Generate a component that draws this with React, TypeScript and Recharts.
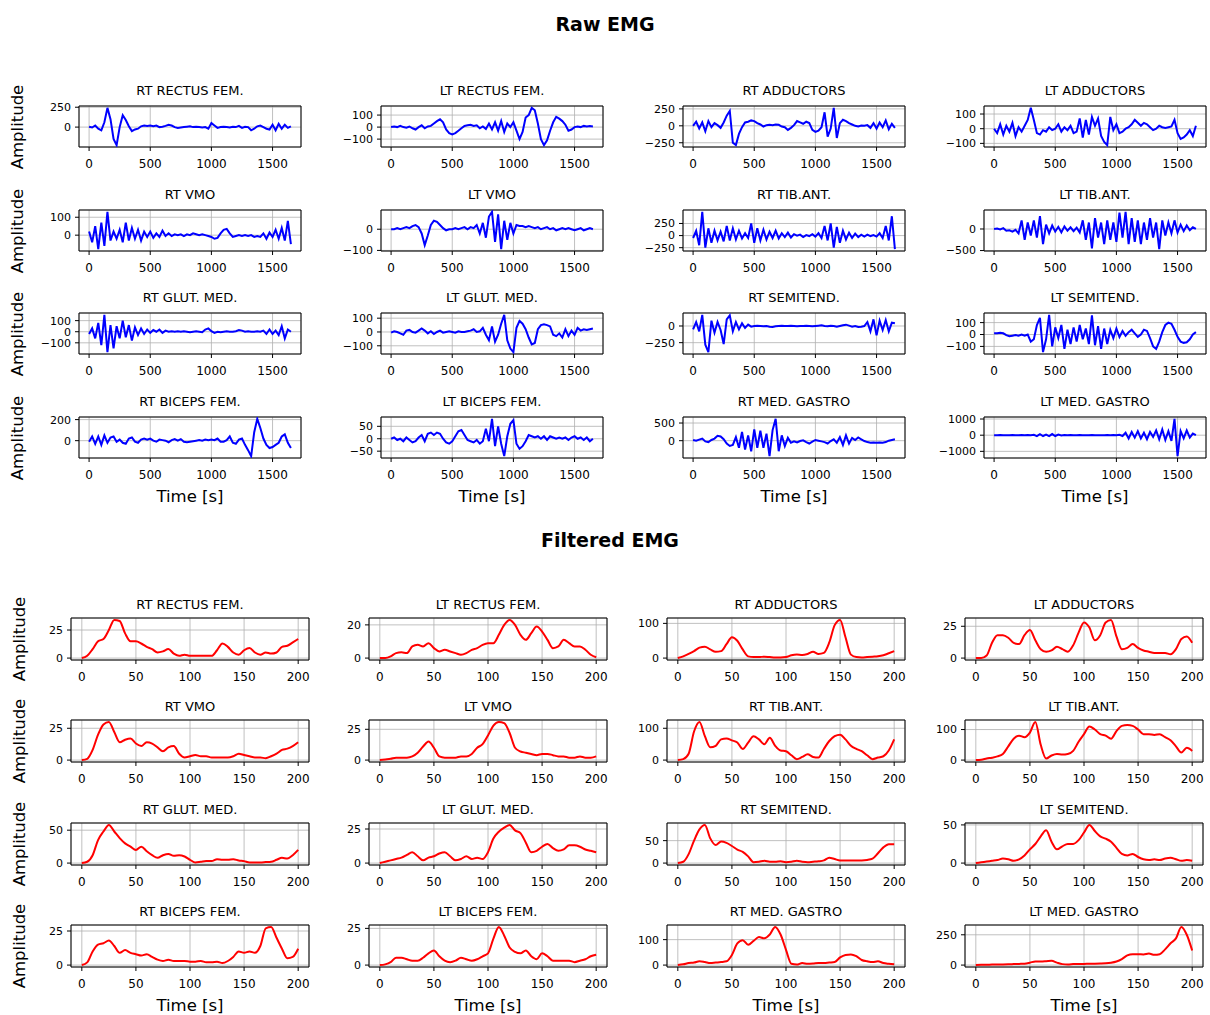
import { LineChart, Line, XAxis, YAxis, CartesianGrid, ReferenceArea } from "recharts";

// sampling grids
const rawTime = Array.from({ length: 67 }, (_, i) => i * 25);
const filtTime = Array.from({ length: 41 }, (_, i) => i * 5);

const rawXTicks = [0, 500, 1000, 1500];
const filtXTicks = [0, 50, 100, 150, 200];

const muscles = [
  "RT RECTUS FEM.", "LT RECTUS FEM.", "RT ADDUCTORS", "LT ADDUCTORS",
  "RT VMO", "LT VMO", "RT TIB.ANT.", "LT TIB.ANT.",
  "RT GLUT. MED.", "LT GLUT. MED.", "RT SEMITEND.", "LT SEMITEND.",
  "RT BICEPS FEM.", "LT BICEPS FEM.", "RT MED. GASTRO", "LT MED. GASTRO",
];

// ---- raw EMG (amplitude every 25 s) ----
const rawRtRectus = [
  5, -5, 20, -20, -40, 60, 242, 100, -150, -227,
  0, 150, 90, 10, -50, -30, -20, 10, 20, 15,
  20, 10, 20, 0, 5, 15, 30, 20, 0, -10,
  -5, 0, 5, 10, 0, 5, 0, -5, 0, -20,
  50, 20, -10, 0, 5, 0, -5, 5, 0, 15,
  -10, 5, 0, -40, -20, 10, 20, 0, -20, -30,
  30, -40, 40, -20, 30, -10, 10,
];
const rawLtRectus = [
  0, 5, 0, 10, 0, -5, 5, -10, -20, 0,
  15, -10, 5, 10, 30, 50, 65, 40, -20, -50,
  -60, -50, -30, -10, 10, 15, 20, 10, 15, -10,
  5, -15, 30, -20, 40, -30, 50, -40, 30, 0,
  40, -30, -100, -40, 80, 100, 160, 140, 30, -100,
  -150, -110, -30, 40, 85, 70, 50, 20, -30, -20,
  0, 5, 0, 10, 5, 10, 5,
];
const rawRtAdductors = [
  0, 60, -40, 50, -80, 70, -20, 40, 10, -30,
  50, 150, 220, -250, -285, -120, -20, 50, 60, 80,
  70, 40, 20, -10, 10, 15, 10, 20, 15, -10,
  -20, -60, -30, 10, 70, 50, 30, 60, 40, -60,
  -90, -70, -20, 200, -160, -40, 265, -180, 40, 90,
  70, 40, 20, 0, -10, 5, 0, 10, -30, 40,
  -40, 50, -20, 80, -50, 30, -30,
];
const rawLtAdductors = [
  0, -30, 30, -40, 20, -20, 40, -50, 10, -20,
  20, 60, 142, 60, -30, -40, -10, -20, 10, -10,
  0, 30, -20, 10, -10, 20, -30, -20, 70, -60,
  60, -40, 80, 20, 70, -50, -90, -112, 80, -10,
  30, -30, -20, 0, 10, 30, 60, 40, 20, 40,
  30, 10, -10, 0, 20, 10, 5, 10, 15, 60,
  -30, -70, -60, -40, -10, -50, 20,
];
const rawRtVmo = [
  20, -40, 50, -78, 70, -60, 130, -30, 20, -20,
  30, -40, 70, -30, 40, -20, 30, -30, 20, -10,
  20, -15, 10, -10, 25, -5, 10, -5, 5, 0,
  5, -5, 5, 0, 10, 5, 0, 5, 0, -5,
  -10, -20, -15, 10, 30, 35, 10, -10, -5, 0,
  -5, 0, -5, 0, -10, -5, -10, 10, -20, 15,
  -10, 30, -20, 40, -30, 80, -50,
];
const rawLtVmo = [
  0, 0, 5, 0, 5, 10, 5, 15, 20, 10,
  -20, -75, -30, 20, 40, 35, 20, 5, -5, 0,
  0, 5, 0, 5, 10, 0, 10, 5, 20, -20,
  30, -40, 60, 82, -60, 70, -94, 40, -50, 30,
  -20, 20, 15, 15, 10, 15, 10, 5, 10, 0,
  5, 10, 0, 5, -5, 0, 5, 0, 5, 0,
  -5, 0, 5, -5, 0, 5, 0,
];
const rawRtTib = [
  -50, 100, -200, 490, -250, 150, -150, 100, -100, 80,
  -120, 200, -100, 150, -80, 100, -60, 50, -50, 250,
  -150, 150, -100, 120, -80, 80, -50, 100, -60, 50,
  -30, 60, -40, 30, 0, 20, -30, 10, -10, 30,
  -20, 50, -50, 200, -100, 250, -250, 180, -150, 100,
  -80, 60, -50, 40, -30, 20, -20, 20, -10, 10,
  -20, 50, -50, 200, -100, 400, -280,
];
const rawLtTib = [
  0, 10, -10, 20, -40, -30, -60, -20, -100, 200,
  -250, 150, -150, 200, -200, 300, -350, 100, -100, 80,
  -60, 50, -80, 60, -40, 40, -50, 30, -80, 200,
  -250, 150, -450, 250, -200, 150, -350, 200, -250, 150,
  -300, 380, -200, 397, -350, 250, -300, 200, -350, 150,
  -250, 250, -200, 150, -467, 200, -150, 150, -100, 200,
  -80, 100, -50, 80, -30, 40, 0,
];
const rawRtGlut = [
  -20, 30, -60, 80, -120, 152, -184, 60, -150, 50,
  -60, 100, -50, 60, -80, 40, -30, 30, -20, 20,
  -10, 15, 0, 20, -10, 10, 0, 5, 0, 5,
  0, 5, 0, -5, 0, 5, 0, -5, 20, 30,
  5, -10, 0, -5, 0, 5, 0, 0, 5, 15,
  10, 0, 5, 0, 0, 5, 0, 10, -20, 20,
  -20, 10, -30, 50, -60, 20, 0,
];
const rawLtGlut = [
  -5, 5, 0, -10, -20, 10, 15, 0, -5, 10,
  25, 10, -10, 5, -15, 0, 10, -5, 0, 5,
  0, -5, 5, 0, 0, 5, 10, 20, 0, 5,
  30, -20, -60, 40, -70, -20, 60, 124, -60, -120,
  -146, 30, 80, 60, 20, -40, -90, -80, 20, 50,
  55, 50, 40, -20, -30, -10, -40, 20, -30, 10,
  -20, 30, 10, 20, 15, 20, 25,
];
const rawRtSemi = [
  -50, 60, -80, 167, -280, -392, 80, -100, 60, -60,
  -270, 100, 160, -80, 60, -50, 40, -30, 20, -10,
  0, 5, 0, -5, 0, -10, -15, -5, 0, 5,
  0, 0, 5, 0, -5, 0, 0, 5, 0, -5,
  0, 5, 10, 0, -5, 5, 0, -10, 0, 10,
  20, 5, -10, 0, -15, -10, 0, 60, -80, 100,
  -140, 80, -60, 90, -80, 50, 40,
];
const rawLtSemi = [
  10, 10, 15, 10, -5, -15, -10, -5, -10, 0,
  -10, 0, -60, -40, 80, 140, -148, -40, 165, -100,
  60, -30, 80, -120, 40, -80, 60, -60, 80, -40,
  50, -80, 160, -90, 70, -120, 50, -80, 40, -30,
  50, -20, 30, -10, 20, 40, 10, -20, 0, 40,
  30, -30, -100, -120, -60, 20, 80, 100, 90, 40,
  -20, -60, -70, -65, -40, 0, 20,
];
const rawRtBiceps = [
  -10, 40, -30, 40, -40, 50, -20, 30, 40, -10,
  10, -20, -30, 20, 30, -10, -20, 10, 20, 10,
  20, 0, -10, 10, 5, 0, -15, 5, 15, 0,
  15, -10, -15, -10, -5, 0, 5, 0, 10, 5,
  10, 5, 20, -10, -10, 5, 40, -20, -30, 10,
  20, -40, -90, -147, 80, 207, 120, 20, -40, -70,
  -60, -40, -20, 40, 60, -20, -70,
];
const rawLtBiceps = [
  0, 5, -5, 0, -10, 5, -5, -15, -10, 5,
  15, -10, 20, 25, 15, 25, 20, 0, -15, -20,
  -10, 10, 30, 35, 15, -5, -10, -15, -5, -20,
  -10, 40, -10, 80, -30, 50, -20, -70, 10, 60,
  75, -20, -40, -30, -10, 15, 10, 5, 10, 0,
  10, -5, 10, 5, 0, 5, 0, 5, -5, 5,
  10, 0, 5, -5, 5, -10, 0,
];
const rawRtGastro = [
  20, 0, 30, 60, -20, -40, 20, 60, 140, 120,
  40, -80, -150, -120, 100, -200, 250, -250, 150, -300,
  320, -200, 280, -200, 200, -438, 300, 618, -300, 150,
  -150, 80, -60, -20, -50, -10, 10, -40, -80, -30,
  20, 0, -20, -40, -80, -10, 40, -60, 100, -120,
  150, -80, 80, 20, 90, 40, -10, -40, -60, -50,
  -60, -50, -60, -40, 0, 20, 40,
];
const rawLtGastro = [
  0, 0, 5, 0, -5, 0, 5, 0, 0, 5,
  0, 10, 0, 20, -60, 60, -50, 40, -60, 70,
  -50, 40, -20, 10, 0, 5, 0, 0, 5, 0,
  -5, 0, 5, 0, -5, 0, 0, 5, 0, 10,
  -10, 20, -50, 150, -200, 200, -150, 250, -200, 150,
  -250, 200, -100, 300, -250, 350, -300, 250, -350, 1010,
  -1296, 250, -200, 300, -150, 100, 0,
];

const rawSeries = [
  rawRtRectus, rawLtRectus, rawRtAdductors, rawLtAdductors,
  rawRtVmo, rawLtVmo, rawRtTib, rawLtTib,
  rawRtGlut, rawLtGlut, rawRtSemi, rawLtSemi,
  rawRtBiceps, rawLtBiceps, rawRtGastro, rawLtGastro,
];
const rawYTicks = [
  [0, 250], [-100, 0, 100], [-250, 0, 250], [-100, 0, 100],
  [0, 100], [-100, 0], [-250, 0, 250], [-500, 0],
  [-100, 0, 100], [-100, 0, 100], [-250, 0], [-100, 0, 100],
  [0, 200], [-50, 0, 50], [0, 500], [-1000, 0, 1000],
];

// ---- filtered EMG (every 5 s) ----
const filtRtRectus = [0, 2, 8, 15, 17, 25, 34, 33, 22, 15, 15, 13, 10, 8, 5, 6, 8, 4, 2, 3, 2, 2, 2, 2, 2, 7, 13, 10, 5, 3, 7, 9, 5, 3, 5, 4, 5, 10, 11, 14, 17];
const filtLtRectus = [0, 0, 1, 3, 3.5, 3, 7, 8, 7, 9, 6, 4, 5, 4, 3, 2, 3, 5, 6, 8, 9, 9, 14, 20, 23, 20, 14, 11, 15, 19, 16, 11, 6, 7, 11, 9, 7, 7, 5, 2, 0.5];
const filtRtAdductors = [0, 5, 12, 20, 30, 33, 25, 18, 20, 40, 60, 50, 25, 5, 3, 3, 4, 3, 2, 2, 3, 8, 10, 9, 12, 18, 12, 15, 45, 95, 110, 60, 10, 3, 2, 3, 4, 5, 8, 14, 20];
const filtLtAdductors = [0, 0, 2, 12, 18, 18, 16, 12, 11, 18, 22, 14, 7, 5, 6, 9, 7, 5, 10, 20, 28, 24, 14, 18, 28, 30, 17, 7, 8, 11, 8, 6, 5, 4, 4, 4, 3, 7, 15, 17, 12];
const filtRtVmo = [0, 1, 8, 20, 28, 30, 22, 14, 16, 17, 13, 11, 14, 13, 10, 7, 10, 11, 5, 2, 3, 4, 3, 3, 2, 2, 2, 2, 3, 5, 4, 3, 2, 2, 1.5, 3, 5, 8, 9, 11, 14];
const filtLtVmo = [0, 0.5, 1, 2, 2, 2, 3, 6, 11, 15, 10, 3, 2, 2, 2, 3, 3, 5, 10, 13, 20, 28, 31, 30, 22, 10, 7, 6, 5, 4, 5, 5, 4, 3, 3, 2, 2, 3, 2, 2, 3];
const filtRtTib = [0, 3, 20, 90, 120, 75, 40, 45, 65, 68, 62, 55, 35, 55, 75, 65, 50, 70, 45, 30, 28, 15, 3, 10, 18, 10, 8, 35, 60, 75, 80, 65, 45, 35, 28, 15, 3, 8, 12, 30, 65];
const filtLtTib = [0, 1, 5, 8, 12, 20, 45, 70, 80, 75, 90, 125, 50, 5, 15, 20, 18, 20, 30, 60, 85, 110, 100, 85, 80, 70, 95, 112, 115, 112, 100, 85, 85, 82, 85, 75, 65, 45, 25, 40, 30];
const filtRtGlut = [0, 2, 12, 35, 48, 58, 48, 38, 30, 25, 20, 25, 18, 12, 8, 12, 14, 11, 12, 10, 5, 1, 2, 3, 3, 6, 5, 5, 6, 4, 3, 1, 1, 1, 1.5, 2, 5, 8, 7, 12, 20];
const filtLtGlut = [0, 1, 2, 3, 4, 6, 8, 5, 2, 4, 5, 7, 8, 5, 2, 3, 5, 3, 4, 3, 8, 18, 23, 26, 28, 24, 22, 15, 8, 9, 12, 14, 11, 9, 10, 13, 13, 12, 10, 9, 8];
const filtRtSemi = [0, 3, 20, 50, 75, 85, 55, 40, 48, 45, 38, 30, 25, 15, 2, 3, 5, 3, 3, 4, 2, 3, 5, 3, 2, 3, 4, 6, 12, 9, 6, 6, 6, 6, 6, 7, 10, 22, 35, 42, 42];
const filtLtSemi = [0, 1, 2, 3, 4, 6, 5, 3, 5, 10, 18, 25, 35, 43, 28, 18, 22, 25, 25, 30, 40, 50, 42, 35, 32, 28, 20, 12, 10, 12, 8, 5, 4, 5, 4, 6, 7, 5, 3, 4, 3];
const filtRtBiceps = [0, 2, 10, 15, 16, 18, 14, 9, 11, 9, 8, 7, 8, 6, 4, 3, 4, 3, 3, 3, 2.5, 2.5, 3, 2, 2, 2.5, 1.5, 3, 6, 10, 9, 10, 9, 14, 27, 28, 20, 12, 5, 6, 12];
const filtLtBiceps = [0, 0.5, 2, 5, 5, 4, 3, 3, 5, 8, 10, 6, 3, 2, 3, 5, 4, 3, 4, 6, 8, 18, 26, 20, 12, 9, 8, 10, 6, 4, 8, 6, 3, 3, 3, 3, 2, 3, 4, 6, 7];
const filtRtGastro = [0, 3, 8, 10, 15, 12, 8, 10, 12, 15, 40, 85, 98, 80, 95, 110, 105, 120, 150, 120, 60, 5, 2, 8, 5, 6, 8, 8, 10, 12, 30, 40, 42, 35, 20, 15, 12, 15, 8, 5, 3];
const filtLtGastro = [0, 2, 3, 4, 5, 5, 6, 8, 10, 12, 20, 30, 30, 32, 35, 20, 8, 5, 8, 10, 10, 12, 12, 13, 15, 20, 30, 50, 80, 90, 90, 88, 95, 85, 90, 130, 180, 220, 315, 250, 120];

const filtSeries = [
  filtRtRectus, filtLtRectus, filtRtAdductors, filtLtAdductors,
  filtRtVmo, filtLtVmo, filtRtTib, filtLtTib,
  filtRtGlut, filtLtGlut, filtRtSemi, filtLtSemi,
  filtRtBiceps, filtLtBiceps, filtRtGastro, filtLtGastro,
];
const filtYTicks = [
  [0, 25], [0, 20], [0, 100], [0, 25],
  [0, 25], [0, 25], [0, 100], [0, 100],
  [0, 50], [0, 25], [0, 50], [0, 50],
  [0, 25], [0, 25], [0, 100], [0, 250],
];

const FONT = "'DejaVu Sans', sans-serif";
const PAD_TOP = 8;
const LM = 60;
const RM = 4;
const XH = 32;

const fmt = (v: number) => (v < 0 ? "\u2212" + Math.abs(v) : String(v));

// matplotlib-like autoscale: 5% margin either side
function limits(vals: number[]): [number, number] {
  const lo = Math.min(...vals);
  const hi = Math.max(...vals);
  const p = (hi - lo) * 0.05;
  return [lo - p, hi + p];
}

interface PanelProps {
  title: string; time: number[]; values: number[]; color: string;
  xTicks: number[]; yTicks: number[]; left: number; top: number;
  w: number; h: number; smooth: boolean; titleGap: number;
}

function Panel({ title, time, values, color, xTicks, yTicks, left, top, w, h, smooth, titleGap }: PanelProps) {
  const data = time.map((t, i) => ({ t, v: values[i] }));
  const xDom = limits(time);
  const yDom = limits(values);
  return (
    <>
      <div style={{ position: "absolute", left, top: top - titleGap - 8, width: w, textAlign: "center", fontSize: 13, lineHeight: "16px", color: "#000" }}>
        {title}
      </div>
      <div style={{ position: "absolute", left: left - LM, top: top - PAD_TOP }}>
        <LineChart width={LM + w + RM} height={PAD_TOP + h + XH} data={data} margin={{ top: PAD_TOP, right: RM, bottom: 0, left: 0 }}>
          <CartesianGrid stroke="#b0b0b0" strokeWidth={0.8} />
          <XAxis
            dataKey="t" type="number" domain={xDom} ticks={xTicks} interval={0} allowDataOverflow
            height={XH} axisLine={false} tickLine={{ stroke: "#000" }} tickSize={4} tickMargin={8}
            tick={{ fill: "#000", fontSize: 12, fontFamily: FONT }}
          />
          <YAxis
            type="number" domain={yDom} ticks={yTicks} interval={0} allowDataOverflow
            width={LM} axisLine={false} tickLine={{ stroke: "#000" }} tickSize={4} tickMargin={4}
            tick={{ fill: "#000", fontSize: 11, fontFamily: FONT }} tickFormatter={fmt}
          />
          <Line type={smooth ? "monotone" : "linear"} dataKey="v" stroke={color} strokeWidth={2} dot={false} isAnimationActive={false} />
          <ReferenceArea x1={xDom[0]} x2={xDom[1]} y1={yDom[0]} y2={yDom[1]} fill="none" stroke="#000" strokeWidth={1} ifOverflow="visible" />
        </LineChart>
      </div>
    </>
  );
}

interface GridProps {
  series: number[][]; yTicks: number[][]; time: number[]; xTicks: number[];
  color: string; lefts: number[]; tops: number[]; w: number; h: number;
  smooth: boolean; titleGap: number; ylabelX: number;
}

function Grid({ series, yTicks, time, xTicks, color, lefts, tops, w, h, smooth, titleGap, ylabelX }: GridProps) {
  return (
    <>
      {series.map((vals, i) => (
        <Panel
          key={i} title={muscles[i]} time={time} values={vals} color={color}
          xTicks={xTicks} yTicks={yTicks[i]} left={lefts[i % 4]} top={tops[Math.floor(i / 4)]}
          w={w} h={h} smooth={smooth} titleGap={titleGap}
        />
      ))}
      {tops.map((t, r) => (
        <div key={"yl" + r} style={{ position: "absolute", left: ylabelX - 60, top: t + h / 2 - 11, width: 120, height: 22, lineHeight: "22px", textAlign: "center", fontSize: 16.5, transform: "rotate(-90deg)" }}>
          Amplitude
        </div>
      ))}
      {lefts.map((l, c) => (
        <div key={"xl" + c} style={{ position: "absolute", left: l, top: tops[3] + h + 28, width: w, textAlign: "center", fontSize: 16.5, lineHeight: "22px" }}>
          Time [s]
        </div>
      ))}
    </>
  );
}

export default function App() {
  return (
    <div style={{ position: "absolute", left: 0, top: 0, width: 1210, height: 1015, background: "#fff", fontFamily: FONT, color: "#000", overflow: "hidden" }}>
      <div style={{ position: "absolute", left: 0, top: 12, width: 1210, textAlign: "center", fontSize: 19, fontWeight: "bold", lineHeight: "24px" }}>
        Raw EMG
      </div>
      <Grid
        series={rawSeries} yTicks={rawYTicks} time={rawTime} xTicks={rawXTicks} color="#0000ff"
        lefts={[79, 381, 683, 984]} tops={[106, 210, 313, 417]} w={222} h={41}
        smooth={false} titleGap={15} ylabelX={18}
      />
      <div style={{ position: "absolute", left: 10, top: 528, width: 1200, textAlign: "center", fontSize: 19, fontWeight: "bold", lineHeight: "24px" }}>
        Filtered EMG
      </div>
      <Grid
        series={filtSeries} yTicks={filtYTicks} time={filtTime} xTicks={filtXTicks} color="#ff0000"
        lefts={[71, 369, 667, 965]} tops={[618, 720, 823, 925]} w={238} h={42}
        smooth={true} titleGap={13} ylabelX={20}
      />
    </div>
  );
}
